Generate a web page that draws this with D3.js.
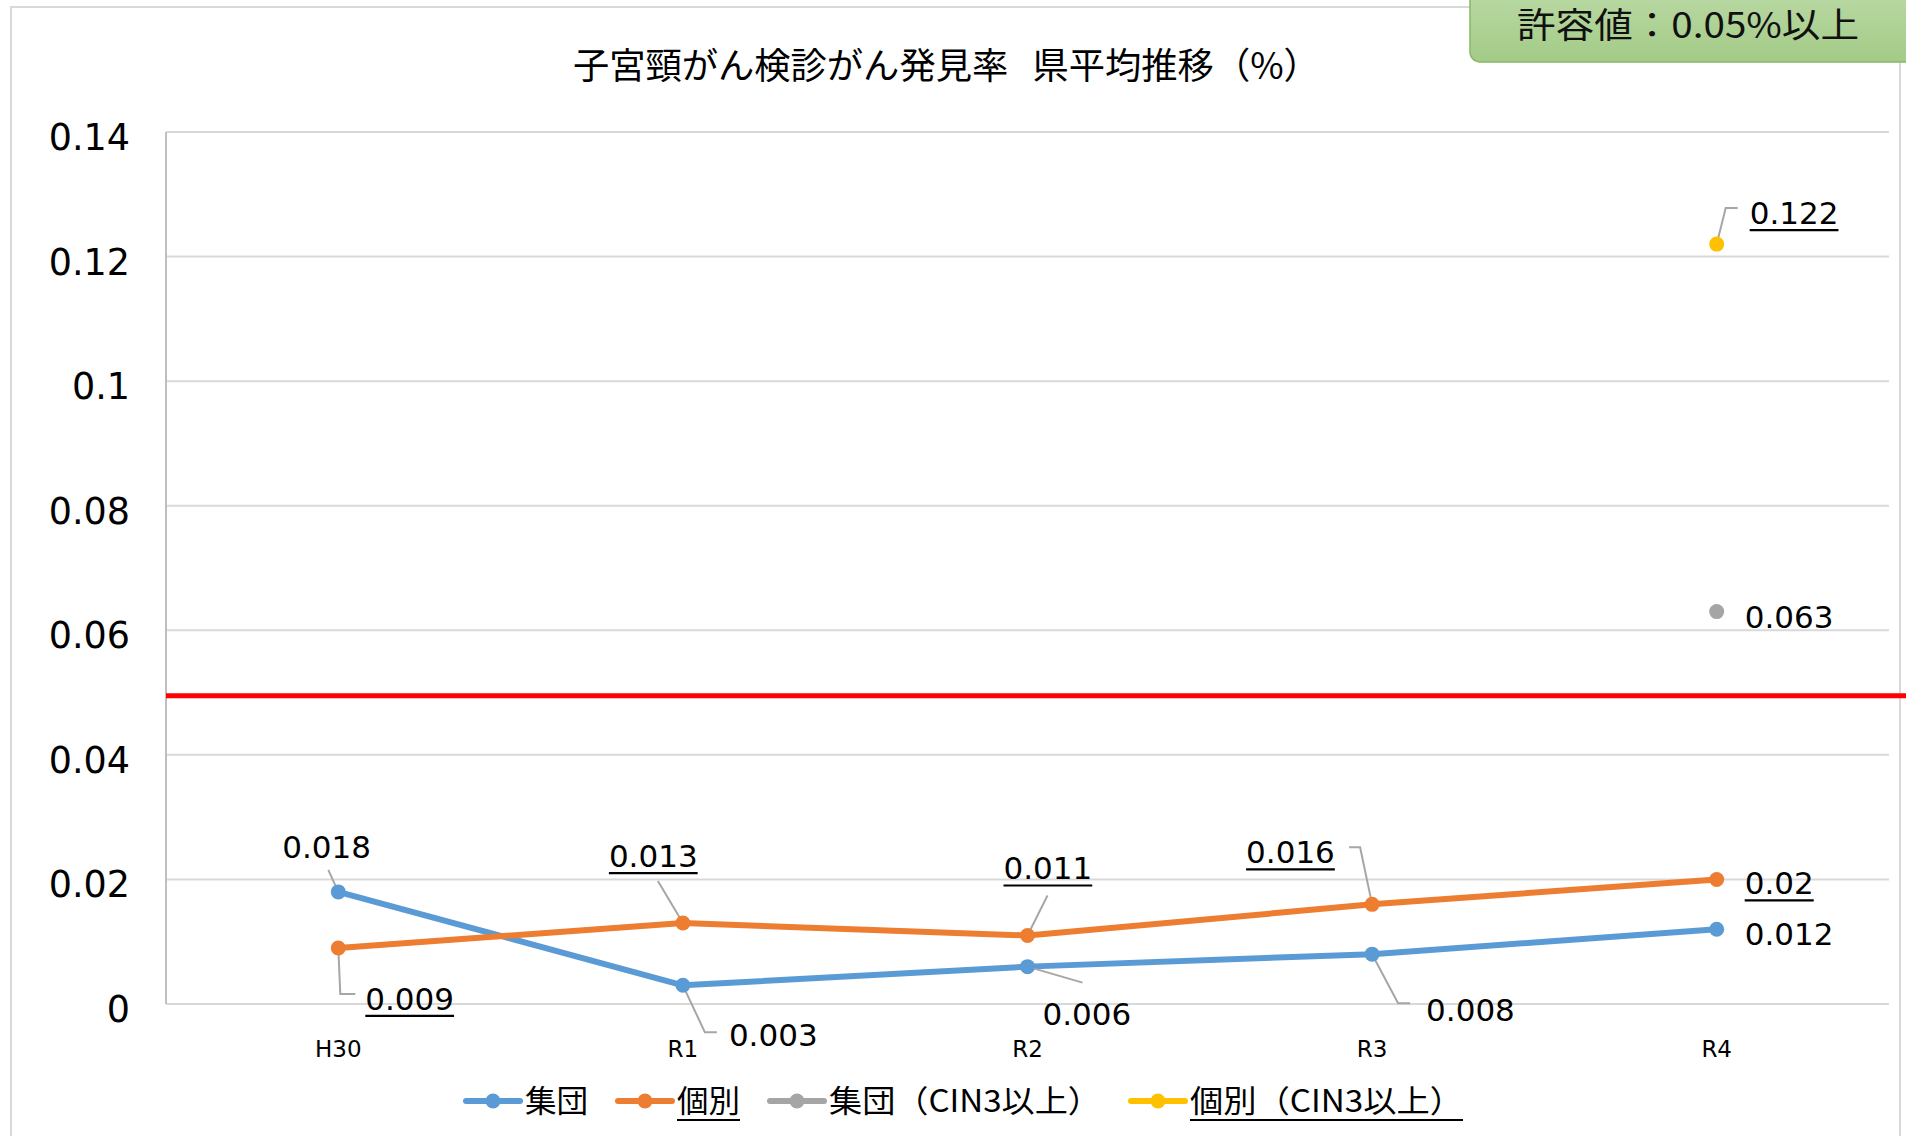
<!DOCTYPE html>
<html><head><meta charset="utf-8">
<script src="https://cdn.jsdelivr.net/npm/d3@7"></script>
<style>body{margin:0;background:#fff} svg{display:block} text{white-space:pre}</style>
</head><body>
<svg id="c" width="1906" height="1136"></svg>
<script>
// ---- data ----
const categories = ["H30", "R1", "R2", "R3", "R4"];
const shudan = [0.018, 0.003, 0.006, 0.008, 0.012];
const kobetsu = [0.009, 0.013, 0.011, 0.016, 0.02];
const shudanCIN3 = [null, null, null, null, 0.063];
const kobetsuCIN3 = [null, null, null, null, 0.122];
const yTicks = [0, 0.02, 0.04, 0.06, 0.08, 0.1, 0.12, 0.14];
const seriesNames = ["集団", "個別", "集団（CIN3以上）", "個別（CIN3以上）"];
const thresholdValue = 0.0495;
const titleText = "子宮頸がん検診がん発見率   県平均推移（%）";
const badgeText = "許容値：0.05%以上";

// ---- styles / layout ----
const colors = ["#5B9BD5", "#ED7D31", "#A5A5A5", "#FFC000"];
const underlined = [false, true, false, true];
const legendTextWidth = [63, 63, 272, 273];
const labelLayout = [
  {0:{dx:-56,dy:-34,leader:[[-10,-22]]}, 1:{dx:46,dy:61,leader:[[22,47],[34,47]]}, 2:{dx:15,dy:58,leader:[[55,16]]}, 3:{dx:54,dy:67,leader:[[26,49],[38,49]]}, 4:{dx:28,dy:16}},
  {0:{dx:27,dy:62,leader:[[2,46],[17,46]]}, 1:{dx:-74,dy:-56,leader:[[-25,-42]]}, 2:{dx:-24,dy:-56,leader:[[20,-40]]}, 3:{dx:-126,dy:-41,leader:[[-12,-57],[-23,-57]]}, 4:{dx:28,dy:15}},
  {4:{dx:28,dy:16}},
  {4:{dx:33,dy:-20,leader:[[9,-36],[21,-36]]}}
];
const LAT = "DejaVu Sans, Verdana, sans-serif";
const CJK = "'Noto Sans CJK JP', sans-serif";

const series = [shudan, kobetsu, shudanCIN3, kobetsuCIN3];
const svg = d3.select("#c");
const W = 1906, H = 1136;
const plot = {left: 166, right: 1889, top: 132, bottom: 1004};

svg.append("rect").attr("width", W).attr("height", H).attr("fill", "#fff");
// chart border
svg.append("rect").attr("x", 11).attr("y", 7).attr("width", 1889).attr("height", 1160)
  .attr("fill", "none").attr("stroke", "#D9D9D9").attr("stroke-width", 2);

const x = d3.scaleBand().domain(categories).range([plot.left, plot.right]).padding(0);
const cx = c => x(c) + x.bandwidth() / 2;
const y = d3.scaleLinear().domain([0, 0.14]).range([plot.bottom, plot.top]);

// gridlines
svg.append("g").selectAll("line").data(yTicks).join("line")
  .attr("x1", plot.left).attr("x2", plot.right)
  .attr("y1", d => y(d)).attr("y2", d => y(d))
  .attr("stroke", "#D9D9D9").attr("stroke-width", 2);
// left axis line
svg.append("line").attr("x1", plot.left).attr("x2", plot.left)
  .attr("y1", y(0.14)).attr("y2", y(0)).attr("stroke", "#BFBFBF").attr("stroke-width", 2);

// y tick labels
svg.append("g").selectAll("text").data(yTicks).join("text")
  .attr("x", 130).attr("y", d => y(d) + 18)
  .attr("text-anchor", "end").attr("font-family", LAT).attr("font-size", 36.5).attr("fill", "#000")
  .text(d => String(d));

// x labels
svg.append("g").selectAll("text").data(categories).join("text")
  .attr("x", d => cx(d)).attr("y", 1057)
  .attr("text-anchor", "middle").attr("font-family", LAT).attr("font-size", 23).attr("fill", "#000")
  .text(d => d);

// threshold line
svg.append("line").attr("x1", plot.left).attr("x2", W)
  .attr("y1", y(thresholdValue)).attr("y2", y(thresholdValue))
  .attr("stroke", "#FF0000").attr("stroke-width", 5);

// series lines
const line = d3.line().defined(d => d.v != null).x(d => cx(d.c)).y(d => y(d.v));
series.forEach((s, i) => {
  const pts = s.map((v, j) => ({c: categories[j], v}));
  svg.append("path").datum(pts).attr("d", line).attr("fill", "none")
    .attr("stroke", colors[i]).attr("stroke-width", 6).attr("stroke-linejoin", "round").attr("stroke-linecap", "round");
});
// leader lines
series.forEach((s, i) => {
  s.forEach((v, j) => {
    if (v == null) return;
    const L = labelLayout[i][j];
    if (!L || !L.leader) return;
    const px = cx(categories[j]), py = y(v);
    const pts = [[px, py]].concat(L.leader.map(p => [px + p[0], py + p[1]]));
    svg.append("path").attr("d", d3.line()(pts)).attr("fill", "none")
      .attr("stroke", "#A6A6A6").attr("stroke-width", 2);
  });
});
// markers
series.forEach((s, i) => {
  svg.append("g").selectAll("circle").data(s.map((v, j) => ({c: categories[j], v})).filter(d => d.v != null))
    .join("circle").attr("cx", d => cx(d.c)).attr("cy", d => y(d.v)).attr("r", 7.5)
    .attr("fill", colors[i]);
});
// data labels
series.forEach((s, i) => {
  s.forEach((v, j) => {
    if (v == null) return;
    const L = labelLayout[i][j];
    const px = cx(categories[j]), py = y(v);
    const t = svg.append("text").attr("x", px + L.dx).attr("y", py + L.dy)
      .attr("font-family", LAT).attr("font-size", 31).attr("fill", "#000").text(String(v));
    if (underlined[i]) {
      const w = t.node().getComputedTextLength();
      svg.append("line").attr("x1", px + L.dx).attr("x2", px + L.dx + w)
        .attr("y1", py + L.dy + 6).attr("y2", py + L.dy + 6).attr("stroke", "#000").attr("stroke-width", 2.2);
    }
  });
});

// title (font size fitted to the reference width)
const tt = svg.append("text").attr("x", 573).attr("y", 79)
  .attr("font-family", CJK).attr("font-size", 34).attr("fill", "#000").text(titleText);
const tw = tt.node().getComputedTextLength();
tt.attr("font-size", 34 * 747 / tw);

// legend
let lx = 466;
const ly = 1101;
seriesNames.forEach((n, i) => {
  const g = svg.append("g");
  g.append("line").attr("x1", lx).attr("x2", lx + 54).attr("y1", ly).attr("y2", ly)
    .attr("stroke", colors[i]).attr("stroke-width", 6).attr("stroke-linecap", "round");
  g.append("circle").attr("cx", lx + 27).attr("cy", ly).attr("r", 7.5).attr("fill", colors[i]);
  const w = legendTextWidth[i];
  g.append("text").attr("x", lx + 59).attr("y", ly + 11)
    .attr("font-family", CJK).attr("font-size", 31).attr("fill", "#000")
    .attr("textLength", w).attr("lengthAdjust", "spacingAndGlyphs").text(n);
  const end = lx + 59 + w;
  if (underlined[i]) {
    g.append("line").attr("x1", lx + 59).attr("x2", end).attr("y1", ly + 19).attr("y2", ly + 19)
      .attr("stroke", "#000").attr("stroke-width", 2.2);
  }
  lx = end + 30;
});

// badge
const defs = svg.append("defs");
const gr = defs.append("linearGradient").attr("id", "gb").attr("x1", 0).attr("y1", 0).attr("x2", 0).attr("y2", 1);
gr.append("stop").attr("offset", "0%").attr("stop-color", "#BDDBA8");
gr.append("stop").attr("offset", "100%").attr("stop-color", "#A3CB87");
svg.append("rect").attr("x", 1470).attr("y", -20).attr("width", 470).attr("height", 82).attr("rx", 10)
  .attr("fill", "url(#gb)").attr("stroke", "#86B866").attr("stroke-width", 1.5);
svg.append("text").attr("x", 1517).attr("y", 38)
  .attr("font-family", CJK).attr("font-size", 35).attr("fill", "#111")
  .attr("textLength", 342).attr("lengthAdjust", "spacingAndGlyphs").text(badgeText);
</script>
</body></html>
